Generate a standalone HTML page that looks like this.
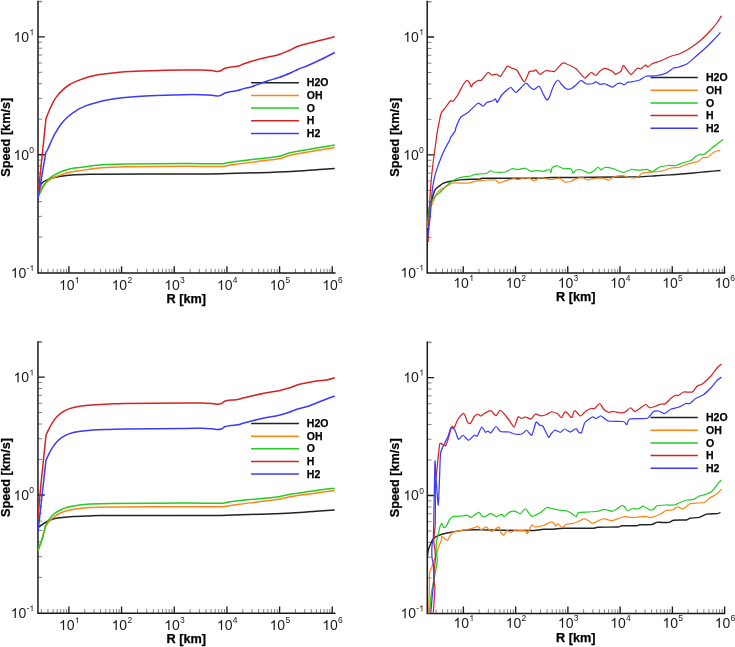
<!DOCTYPE html>
<html><head><meta charset="utf-8"><title>Speed vs R</title>
<style>html,body{margin:0;padding:0;background:#fff}body{width:735px;height:647px;overflow:hidden;font-family:"Liberation Sans",sans-serif}</style>
</head><body>
<svg width="735" height="647" viewBox="0 0 735 647" style="display:block;will-change:transform">
<rect width="735" height="647" fill="#ffffff"/>
<defs><path id="g1" d="M763 0L583 0L583 1147Q518 1085 412.5 1023Q307 961 223 930L223 1104Q374 1175 487 1276Q600 1377 647 1472L763 1472Z" fill="#1a1a1a"/></defs>
<clipPath id="c1"><rect x="37.6" y="-0.6000000000000001" width="299.15" height="273.95000000000005"/></clipPath>
<path d="M41.36,273.05 v-4.2 M47.94,273.05 v-4.2 M53.04,273.05 v-4.2 M57.22,273.05 v-4.2 M60.74,273.05 v-4.2 M63.80,273.05 v-4.2 M66.49,273.05 v-4.2 M84.76,273.05 v-4.2 M94.03,273.05 v-4.2 M100.61,273.05 v-4.2 M105.71,273.05 v-4.2 M109.89,273.05 v-4.2 M113.41,273.05 v-4.2 M116.47,273.05 v-4.2 M119.16,273.05 v-4.2 M137.43,273.05 v-4.2 M146.70,273.05 v-4.2 M153.28,273.05 v-4.2 M158.38,273.05 v-4.2 M162.56,273.05 v-4.2 M166.08,273.05 v-4.2 M169.14,273.05 v-4.2 M171.83,273.05 v-4.2 M190.10,273.05 v-4.2 M199.37,273.05 v-4.2 M205.95,273.05 v-4.2 M211.05,273.05 v-4.2 M215.23,273.05 v-4.2 M218.75,273.05 v-4.2 M221.81,273.05 v-4.2 M224.50,273.05 v-4.2 M242.77,273.05 v-4.2 M252.04,273.05 v-4.2 M258.62,273.05 v-4.2 M263.72,273.05 v-4.2 M267.90,273.05 v-4.2 M271.42,273.05 v-4.2 M274.48,273.05 v-4.2 M277.17,273.05 v-4.2 M295.44,273.05 v-4.2 M304.71,273.05 v-4.2 M311.29,273.05 v-4.2 M316.39,273.05 v-4.2 M320.57,273.05 v-4.2 M324.09,273.05 v-4.2 M327.15,273.05 v-4.2 M329.84,273.05 v-4.2 M38.0,237.11 h4.2 M38.0,216.35 h4.2 M38.0,201.62 h4.2 M38.0,190.19 h4.2 M38.0,180.86 h4.2 M38.0,172.96 h4.2 M38.0,166.13 h4.2 M38.0,160.09 h4.2 M38.0,119.21 h4.2 M38.0,98.45 h4.2 M38.0,83.72 h4.2 M38.0,72.29 h4.2 M38.0,62.96 h4.2 M38.0,55.06 h4.2 M38.0,48.23 h4.2 M38.0,42.19 h4.2 M38.0,1.31 h4.2 M38.0,1.80 h4.2" stroke="#858585" stroke-width="1" fill="none"/>
<path d="M68.90,273.05 v-6.8 M121.57,273.05 v-6.8 M174.24,273.05 v-6.8 M226.91,273.05 v-6.8 M279.58,273.05 v-6.8 M332.25,273.05 v-6.8 M38.0,154.70 h6.8 M38.0,36.80 h6.8" stroke="#1a1a1a" stroke-width="1.35" fill="none"/>
<path d="M38.0,1.4 V273.05 H334.75" stroke="#1a1a1a" stroke-width="1.5" fill="none" stroke-linejoin="miter" stroke-linecap="square"/>
<path d="M251.1,82.70 H298.9" stroke="#222222" stroke-width="1.5" fill="none"/>
<path d="M251.1,95.40 H298.9" stroke="#ff8418" stroke-width="1.5" fill="none"/>
<path d="M251.1,108.10 H298.9" stroke="#22cc22" stroke-width="1.5" fill="none"/>
<path d="M251.1,120.80 H298.9" stroke="#d62222" stroke-width="1.5" fill="none"/>
<path d="M251.1,133.50 H298.9" stroke="#3a3aff" stroke-width="1.5" fill="none"/>
<g clip-path="url(#c1)" fill="none" stroke-width="1.5" stroke-linejoin="round" stroke-linecap="butt">
<path d="M37.90,189.00 C38.13,188.68 38.60,188.12 39.30,187.10 C40.00,186.08 40.87,184.07 42.10,182.90 C43.33,181.73 44.85,180.95 46.70,180.10 C48.55,179.25 50.88,178.43 53.20,177.80 C55.52,177.17 57.52,176.77 60.60,176.30 C63.68,175.83 66.80,175.33 71.70,175.00 C76.60,174.67 85.28,174.43 90.00,174.30 C94.72,174.17 84.33,174.25 100.00,174.20 C115.67,174.15 163.75,174.07 184.00,174.00 C204.25,173.93 209.00,173.96 221.50,173.75 C234.00,173.54 247.33,173.12 259.00,172.75 C270.67,172.38 281.92,172.00 291.50,171.50 C301.08,171.00 309.29,170.25 316.50,169.75 C323.71,169.25 331.71,168.71 334.75,168.50" stroke="#222222"/>
<path d="M37.90,193.00 C38.28,192.33 39.20,190.37 40.20,189.00 C41.20,187.63 42.50,186.20 43.90,184.80 C45.30,183.40 47.05,181.77 48.60,180.60 C50.15,179.43 51.20,178.75 53.20,177.80 C55.20,176.85 57.97,175.78 60.60,174.90 C63.23,174.02 66.07,173.17 69.00,172.50 C71.93,171.83 74.70,171.43 78.20,170.90 C81.70,170.37 86.37,169.80 90.00,169.30 C93.63,168.80 94.17,168.33 100.00,167.90 C105.83,167.47 111.00,167.03 125.00,166.75 C139.00,166.47 169.50,166.30 184.00,166.25 C198.50,166.20 205.75,166.41 212.00,166.45 C218.25,166.49 219.17,166.60 221.50,166.50 C223.83,166.40 223.92,166.18 226.00,165.85 C228.08,165.52 228.50,165.27 234.00,164.50 C239.50,163.73 251.50,162.21 259.00,161.25 C266.50,160.29 274.00,159.71 279.00,158.75 C284.00,157.79 285.88,156.33 289.00,155.50 C292.12,154.67 293.17,154.58 297.75,153.75 C302.33,152.92 310.33,151.54 316.50,150.50 C322.67,149.46 331.71,148.00 334.75,147.50" stroke="#ff8418"/>
<path d="M37.90,196.40 C38.28,195.78 39.35,194.25 40.20,192.70 C41.05,191.15 41.92,189.03 43.00,187.10 C44.08,185.17 45.32,182.80 46.70,181.10 C48.08,179.40 49.45,178.22 51.30,176.90 C53.15,175.58 55.47,174.32 57.80,173.20 C60.13,172.08 62.52,171.05 65.30,170.20 C68.08,169.35 71.42,168.65 74.50,168.10 C77.58,167.55 81.22,167.22 83.80,166.90 C86.38,166.58 87.30,166.53 90.00,166.20 C92.70,165.87 94.17,165.27 100.00,164.90 C105.83,164.53 111.00,164.23 125.00,164.00 C139.00,163.77 169.50,163.55 184.00,163.50 C198.50,163.45 205.75,163.66 212.00,163.70 C218.25,163.74 219.17,163.85 221.50,163.75 C223.83,163.65 223.92,163.43 226.00,163.10 C228.08,162.77 228.50,162.47 234.00,161.75 C239.50,161.03 251.50,159.67 259.00,158.75 C266.50,157.83 274.00,157.21 279.00,156.25 C284.00,155.29 285.88,153.83 289.00,153.00 C292.12,152.17 293.17,152.08 297.75,151.25 C302.33,150.42 310.33,149.04 316.50,148.00 C322.67,146.96 331.71,145.50 334.75,145.00" stroke="#22cc22"/>
<path d="M38.00,195.40 L46.00,118.70 C46.47,117.50 47.75,113.98 48.80,111.50 C49.85,109.02 51.03,106.23 52.30,103.80 C53.57,101.37 54.78,99.10 56.40,96.90 C58.02,94.70 59.92,92.58 62.00,90.60 C64.08,88.62 66.35,86.62 68.90,85.00 C71.45,83.38 74.05,82.23 77.30,80.90 C80.55,79.57 84.70,78.05 88.40,77.00 C92.10,75.95 95.90,75.23 99.50,74.60 C103.10,73.97 105.75,73.67 110.00,73.20 C114.25,72.73 118.33,72.16 125.00,71.75 C131.67,71.34 140.17,71.04 150.00,70.75 C159.83,70.46 175.42,70.12 184.00,70.00 C192.58,69.88 196.83,69.90 201.50,70.00 C206.17,70.10 209.29,70.35 212.00,70.60 C214.71,70.85 216.25,71.50 217.75,71.50 C219.25,71.50 219.79,71.15 221.00,70.60 C222.21,70.05 223.33,68.80 225.00,68.20 C226.67,67.60 228.88,67.33 231.00,67.00 C233.12,66.67 235.58,66.78 237.75,66.25 C239.92,65.72 241.71,64.63 244.00,63.80 C246.29,62.97 248.00,62.25 251.50,61.25 C255.00,60.25 260.42,58.92 265.00,57.80 C269.58,56.67 275.00,55.72 279.00,54.50 C283.00,53.28 285.88,51.88 289.00,50.50 C292.12,49.12 294.75,47.37 297.75,46.25 C300.75,45.13 303.88,44.63 307.00,43.80 C310.12,42.97 313.33,42.05 316.50,41.25 C319.67,40.45 322.96,39.75 326.00,39.00 C329.04,38.25 333.29,37.12 334.75,36.75" stroke="#d62222"/>
<path d="M37.90,199.20 L45.90,152.10 C46.15,151.75 46.57,151.67 47.40,150.00 C48.23,148.33 49.63,144.82 50.90,142.10 C52.17,139.38 53.38,136.60 55.00,133.70 C56.62,130.80 58.50,127.48 60.60,124.70 C62.70,121.92 65.05,119.32 67.60,117.00 C70.15,114.68 72.90,112.65 75.90,110.80 C78.90,108.95 82.12,107.30 85.60,105.90 C89.08,104.50 92.73,103.45 96.80,102.40 C100.87,101.35 105.30,100.42 110.00,99.60 C114.70,98.78 118.33,98.14 125.00,97.50 C131.67,96.86 140.17,96.22 150.00,95.75 C159.83,95.28 175.42,94.88 184.00,94.70 C192.58,94.53 196.83,94.62 201.50,94.70 C206.17,94.78 209.29,94.98 212.00,95.20 C214.71,95.42 216.25,96.00 217.75,96.00 C219.25,96.00 219.79,95.70 221.00,95.20 C222.21,94.70 223.33,93.60 225.00,93.00 C226.67,92.40 228.88,92.02 231.00,91.60 C233.12,91.18 235.58,91.00 237.75,90.50 C239.92,90.00 241.71,89.22 244.00,88.60 C246.29,87.97 247.75,87.97 251.50,86.75 C255.25,85.53 261.92,82.79 266.50,81.25 C271.08,79.71 274.83,78.96 279.00,77.50 C283.17,76.04 288.38,73.83 291.50,72.50 C294.62,71.17 294.83,70.75 297.75,69.50 C300.67,68.25 305.04,66.71 309.00,65.00 C312.96,63.29 317.21,61.33 321.50,59.25 C325.79,57.17 332.54,53.62 334.75,52.50" stroke="#3a3aff"/>
</g>
<use href="#g1" transform="translate(58.90,289.95) scale(0.00684,-0.00684)"/><text x="66.68" y="289.95" font-family="Liberation Sans, sans-serif" font-size="14" fill="#1a1a1a">0</text><use href="#g1" transform="translate(74.77,283.15) scale(0.00415,-0.00415)"/>
<use href="#g1" transform="translate(111.57,289.95) scale(0.00684,-0.00684)"/><text x="119.35" y="289.95" font-family="Liberation Sans, sans-serif" font-size="14" fill="#1a1a1a">0</text><text x="127.44" y="283.15" font-family="Liberation Sans, sans-serif" font-size="8.5" fill="#1a1a1a">2</text>
<use href="#g1" transform="translate(164.24,289.95) scale(0.00684,-0.00684)"/><text x="172.02" y="289.95" font-family="Liberation Sans, sans-serif" font-size="14" fill="#1a1a1a">0</text><text x="180.11" y="283.15" font-family="Liberation Sans, sans-serif" font-size="8.5" fill="#1a1a1a">3</text>
<use href="#g1" transform="translate(216.91,289.95) scale(0.00684,-0.00684)"/><text x="224.69" y="289.95" font-family="Liberation Sans, sans-serif" font-size="14" fill="#1a1a1a">0</text><text x="232.78" y="283.15" font-family="Liberation Sans, sans-serif" font-size="8.5" fill="#1a1a1a">4</text>
<use href="#g1" transform="translate(269.58,289.95) scale(0.00684,-0.00684)"/><text x="277.36" y="289.95" font-family="Liberation Sans, sans-serif" font-size="14" fill="#1a1a1a">0</text><text x="285.45" y="283.15" font-family="Liberation Sans, sans-serif" font-size="8.5" fill="#1a1a1a">5</text>
<use href="#g1" transform="translate(322.25,289.95) scale(0.00684,-0.00684)"/><text x="330.03" y="289.95" font-family="Liberation Sans, sans-serif" font-size="14" fill="#1a1a1a">0</text><text x="338.12" y="283.15" font-family="Liberation Sans, sans-serif" font-size="8.5" fill="#1a1a1a">6</text>
<use href="#g1" transform="translate(13.51,42.00) scale(0.00684,-0.00684)"/><text x="21.29" y="42.00" font-family="Liberation Sans, sans-serif" font-size="14" fill="#1a1a1a">0</text><use href="#g1" transform="translate(29.37,35.20) scale(0.00415,-0.00415)"/>
<use href="#g1" transform="translate(13.51,159.90) scale(0.00684,-0.00684)"/><text x="21.29" y="159.90" font-family="Liberation Sans, sans-serif" font-size="14" fill="#1a1a1a">0</text><text x="29.37" y="153.10" font-family="Liberation Sans, sans-serif" font-size="8.5" fill="#1a1a1a">0</text>
<use href="#g1" transform="translate(10.68,277.80) scale(0.00684,-0.00684)"/><text x="18.46" y="277.80" font-family="Liberation Sans, sans-serif" font-size="14" fill="#1a1a1a">0</text><text x="26.54" y="271.00" font-family="Liberation Sans, sans-serif" font-size="8.5" fill="#1a1a1a">-</text><use href="#g1" transform="translate(29.37,271.00) scale(0.00415,-0.00415)"/>
<text x="186.28" y="303.25" font-family="Liberation Sans, sans-serif" font-size="12.7" font-weight="bold" fill="#000" stroke="#000" stroke-width="0.25" text-anchor="middle">R [km]</text>
<text transform="translate(9.90,137.22) rotate(-90)" font-family="Liberation Sans, sans-serif" font-size="12.7" font-weight="bold" fill="#000" stroke="#000" stroke-width="0.25" text-anchor="middle">Speed [km/s]</text>
<text x="306.8" y="86.30" font-family="Liberation Sans, sans-serif" font-size="10.5" font-weight="bold" fill="#000" stroke="#000" stroke-width="0.25">H2O</text>
<text x="306.8" y="99.00" font-family="Liberation Sans, sans-serif" font-size="10.5" font-weight="bold" fill="#000" stroke="#000" stroke-width="0.25">OH</text>
<text x="306.8" y="111.70" font-family="Liberation Sans, sans-serif" font-size="10.5" font-weight="bold" fill="#000" stroke="#000" stroke-width="0.25">O</text>
<text x="306.8" y="124.40" font-family="Liberation Sans, sans-serif" font-size="10.5" font-weight="bold" fill="#000" stroke="#000" stroke-width="0.25">H</text>
<text x="306.8" y="137.10" font-family="Liberation Sans, sans-serif" font-size="10.5" font-weight="bold" fill="#000" stroke="#000" stroke-width="0.25">H2</text>
<clipPath id="c2"><rect x="426.8" y="-0.5" width="299.7" height="273.75"/></clipPath>
<path d="M435.93,272.95 v-4.2 M442.46,272.95 v-4.2 M447.52,272.95 v-4.2 M451.66,272.95 v-4.2 M455.16,272.95 v-4.2 M458.19,272.95 v-4.2 M460.86,272.95 v-4.2 M478.98,272.95 v-4.2 M488.18,272.95 v-4.2 M494.71,272.95 v-4.2 M499.77,272.95 v-4.2 M503.91,272.95 v-4.2 M507.41,272.95 v-4.2 M510.44,272.95 v-4.2 M513.11,272.95 v-4.2 M531.23,272.95 v-4.2 M540.43,272.95 v-4.2 M546.96,272.95 v-4.2 M552.02,272.95 v-4.2 M556.16,272.95 v-4.2 M559.66,272.95 v-4.2 M562.69,272.95 v-4.2 M565.36,272.95 v-4.2 M583.48,272.95 v-4.2 M592.68,272.95 v-4.2 M599.21,272.95 v-4.2 M604.27,272.95 v-4.2 M608.41,272.95 v-4.2 M611.91,272.95 v-4.2 M614.94,272.95 v-4.2 M617.61,272.95 v-4.2 M635.73,272.95 v-4.2 M644.93,272.95 v-4.2 M651.46,272.95 v-4.2 M656.52,272.95 v-4.2 M660.66,272.95 v-4.2 M664.16,272.95 v-4.2 M667.19,272.95 v-4.2 M669.86,272.95 v-4.2 M687.98,272.95 v-4.2 M697.18,272.95 v-4.2 M703.71,272.95 v-4.2 M708.77,272.95 v-4.2 M712.91,272.95 v-4.2 M716.41,272.95 v-4.2 M719.44,272.95 v-4.2 M722.11,272.95 v-4.2 M427.2,237.31 h4.2 M427.2,216.55 h4.2 M427.2,201.82 h4.2 M427.2,190.39 h4.2 M427.2,181.06 h4.2 M427.2,173.16 h4.2 M427.2,166.33 h4.2 M427.2,160.29 h4.2 M427.2,119.41 h4.2 M427.2,98.65 h4.2 M427.2,83.92 h4.2 M427.2,72.49 h4.2 M427.2,63.16 h4.2 M427.2,55.26 h4.2 M427.2,48.43 h4.2 M427.2,42.39 h4.2 M427.2,1.51 h4.2 M427.2,1.90 h4.2" stroke="#858585" stroke-width="1" fill="none"/>
<path d="M463.25,272.95 v-6.8 M515.50,272.95 v-6.8 M567.75,272.95 v-6.8 M620.00,272.95 v-6.8 M672.25,272.95 v-6.8 M724.50,272.95 v-6.8 M427.2,154.90 h6.8 M427.2,37.00 h6.8" stroke="#1a1a1a" stroke-width="1.35" fill="none"/>
<path d="M427.2,1.5 V272.95 H724.5" stroke="#1a1a1a" stroke-width="1.5" fill="none" stroke-linejoin="miter" stroke-linecap="square"/>
<path d="M650.5,77.50 H697.8" stroke="#222222" stroke-width="1.5" fill="none"/>
<path d="M650.5,90.20 H697.8" stroke="#ff8418" stroke-width="1.5" fill="none"/>
<path d="M650.5,102.90 H697.8" stroke="#22cc22" stroke-width="1.5" fill="none"/>
<path d="M650.5,115.60 H697.8" stroke="#d62222" stroke-width="1.5" fill="none"/>
<path d="M650.5,128.30 H697.8" stroke="#3a3aff" stroke-width="1.5" fill="none"/>
<g clip-path="url(#c2)" fill="none" stroke-width="1.25" stroke-linejoin="round" stroke-linecap="butt">
<path d="M427.70,228.40 C427.87,226.36 428.98,210.89 429.40,208.00 C429.82,205.11 431.39,201.20 431.90,199.50 C432.41,197.80 434.07,192.10 434.50,191.00 C434.93,189.90 435.69,189.01 436.20,188.50 C436.71,187.99 438.92,186.41 439.60,185.90 C440.28,185.39 442.32,183.77 443.00,183.40 C443.68,183.03 445.30,182.46 446.40,182.20 C447.50,181.94 452.39,181.06 454.00,180.80 C455.61,180.54 459.90,179.77 462.50,179.60 C465.10,179.43 477.95,179.23 480.00,179.10 C482.05,178.97 479.20,178.34 483.00,178.25 C486.80,178.16 512.00,178.28 518.00,178.25 C524.00,178.22 539.62,178.07 543.00,178.00 C546.38,177.93 548.45,177.55 551.75,177.50 C555.05,177.45 569.83,177.55 576.00,177.50 C582.17,177.45 607.25,177.05 613.50,177.00 C619.75,176.95 634.25,177.12 638.50,177.00 C642.75,176.88 652.25,176.00 656.00,175.75 C659.75,175.50 672.25,174.78 676.00,174.50 C679.75,174.22 690.50,173.28 693.50,173.00 C696.50,172.72 703.30,172.00 706.00,171.75 C708.70,171.50 719.05,170.62 720.50,170.50" stroke="#222222" stroke-width="1.45"/>
<path d="M427.50,228.00 C427.77,226.00 429.67,210.51 430.20,208.00 C430.73,205.49 432.29,204.09 432.80,202.90 C433.31,201.71 434.79,197.20 435.30,196.10 C435.81,195.00 437.30,192.58 437.90,191.90 C438.50,191.22 440.54,189.81 441.30,189.30 C442.06,188.79 444.57,187.34 445.50,186.80 C446.43,186.26 449.75,184.28 450.60,183.90 C451.45,183.52 452.13,183.09 454.00,183.00 C455.87,182.91 467.26,183.17 469.30,183.00 C471.34,182.83 473.33,181.52 474.40,181.30 C475.47,181.08 478.76,180.93 480.00,180.80 C481.24,180.67 485.20,180.08 486.75,180.00 C488.30,179.92 494.25,179.70 495.50,180.00 C496.75,180.30 498.38,182.88 499.25,183.00 C500.12,183.12 502.88,181.68 504.25,181.25 C505.62,180.82 511.62,178.93 513.00,178.75 C514.38,178.57 516.88,179.57 518.00,179.50 C519.12,179.43 523.00,178.07 524.25,178.00 C525.50,177.93 529.50,178.47 530.50,178.75 C531.50,179.03 533.25,180.88 534.25,180.75 C535.25,180.62 539.38,177.70 540.50,177.50 C541.62,177.30 544.38,178.55 545.50,178.75 C546.62,178.95 550.33,179.55 551.75,179.50 C553.17,179.45 558.45,178.00 559.75,178.25 C561.05,178.50 563.62,181.70 564.75,182.00 C565.88,182.30 569.38,181.75 571.00,181.25 C572.62,180.75 579.38,177.12 581.00,177.00 C582.62,176.88 585.75,179.88 587.25,180.00 C588.75,180.12 594.38,178.43 596.00,178.25 C597.62,178.07 602.25,178.07 603.50,178.25 C604.75,178.43 607.50,180.12 608.50,180.00 C609.50,179.88 612.00,177.43 613.50,177.00 C615.00,176.57 622.00,175.70 623.50,175.75 C625.00,175.80 627.12,177.32 628.50,177.50 C629.88,177.68 635.88,177.93 637.25,177.50 C638.62,177.07 640.88,173.80 642.25,173.25 C643.62,172.70 649.12,172.20 651.00,172.00 C652.88,171.80 659.00,171.65 661.00,171.25 C663.00,170.85 669.25,168.38 671.00,168.00 C672.75,167.62 677.00,167.85 678.50,167.50 C680.00,167.15 684.50,165.00 686.00,164.50 C687.50,164.00 692.25,162.82 693.50,162.50 C694.75,162.18 697.55,161.75 698.50,161.25 C699.45,160.75 702.12,157.88 703.00,157.50 C703.88,157.12 706.20,158.00 707.25,157.50 C708.30,157.00 712.50,153.18 713.50,152.50 C714.50,151.82 716.58,150.93 717.25,150.75 C717.92,150.57 719.95,150.75 720.25,150.75" stroke="#ff8418"/>
<path d="M427.50,224.00 C427.69,222.23 428.96,208.58 429.40,206.30 C429.84,204.02 431.31,202.22 431.90,201.20 C432.49,200.18 434.62,196.86 435.30,196.10 C435.98,195.34 438.02,194.19 438.70,193.60 C439.38,193.01 441.25,191.05 442.10,190.20 C442.95,189.35 446.18,185.99 447.20,185.10 C448.22,184.21 451.36,181.93 452.30,181.30 C453.24,180.67 455.75,179.19 456.60,178.80 C457.45,178.41 459.87,177.62 460.80,177.40 C461.73,177.18 464.88,176.74 465.90,176.60 C466.92,176.46 470.15,176.21 471.00,176.00 C471.85,175.79 473.50,174.70 474.40,174.50 C475.30,174.30 478.76,174.12 480.00,174.00 C481.24,173.88 485.70,173.57 486.75,173.25 C487.80,172.93 489.88,170.88 490.50,170.75 C491.12,170.62 491.50,171.88 493.00,172.00 C494.50,172.12 503.62,172.32 505.50,172.00 C507.38,171.68 510.50,169.00 511.75,168.75 C513.00,168.50 516.62,169.55 518.00,169.50 C519.38,169.45 524.25,168.07 525.50,168.25 C526.75,168.43 529.38,171.03 530.50,171.25 C531.62,171.47 535.50,170.50 536.75,170.50 C538.00,170.50 541.75,171.35 543.00,171.25 C544.25,171.15 548.45,169.38 549.25,169.50 C550.05,169.62 550.70,172.70 551.00,172.50 C551.30,172.30 551.62,168.18 552.25,167.50 C552.88,166.82 556.12,165.62 557.25,165.75 C558.38,165.88 562.12,168.45 563.50,168.75 C564.88,169.05 570.05,168.30 571.00,168.75 C571.95,169.20 572.50,173.12 573.00,173.25 C573.50,173.38 575.08,170.32 576.00,170.00 C576.92,169.68 581.00,169.70 582.25,170.00 C583.50,170.30 587.38,172.88 588.50,173.00 C589.62,173.12 592.55,171.85 593.50,171.25 C594.45,170.65 597.25,167.12 598.00,167.00 C598.75,166.88 600.33,169.95 601.00,170.00 C601.67,170.05 603.50,167.62 604.75,167.50 C606.00,167.38 611.62,168.25 613.50,168.75 C615.38,169.25 621.75,172.43 623.50,172.50 C625.25,172.57 629.50,169.75 631.00,169.50 C632.50,169.25 636.88,170.00 638.50,170.00 C640.12,170.00 645.88,169.32 647.25,169.50 C648.62,169.68 651.00,172.00 652.25,171.75 C653.50,171.50 658.12,167.62 659.75,167.00 C661.38,166.38 666.88,165.65 668.50,165.50 C670.12,165.35 674.50,165.80 676.00,165.50 C677.50,165.20 682.00,163.00 683.50,162.50 C685.00,162.00 689.75,161.12 691.00,160.50 C692.25,159.88 695.00,156.88 696.00,156.25 C697.00,155.62 700.20,154.43 701.00,154.25 C701.80,154.07 703.00,155.05 704.00,154.50 C705.00,153.95 709.10,150.25 711.00,148.75 C712.90,147.25 721.80,140.43 723.00,139.50" stroke="#22cc22"/>
<path d="M428.20,242.00 C428.32,238.60 429.12,213.95 429.40,208.00 C429.68,202.05 430.66,186.75 431.00,182.50 C431.34,178.25 432.40,168.90 432.80,165.50 C433.20,162.10 434.66,151.05 435.00,148.50 C435.34,145.95 436.02,141.35 436.20,140.00 C436.38,138.65 436.27,137.62 436.75,135.00 C437.23,132.38 440.12,116.50 441.00,113.75 C441.88,111.00 444.55,108.80 445.50,107.50 C446.45,106.20 449.75,101.38 450.50,100.75 C451.25,100.12 452.25,101.88 453.00,101.25 C453.75,100.62 457.00,96.12 458.00,94.50 C459.00,92.88 462.12,86.40 463.00,85.00 C463.88,83.60 466.12,80.75 466.75,80.50 C467.38,80.25 468.80,81.85 469.25,82.50 C469.70,83.15 470.88,86.88 471.25,87.00 C471.62,87.12 472.32,84.40 473.00,83.75 C473.68,83.10 477.12,80.88 478.00,80.50 C478.88,80.12 480.75,80.80 481.75,80.00 C482.75,79.20 487.00,73.00 488.00,72.50 C489.00,72.00 490.88,74.83 491.75,75.00 C492.62,75.17 495.88,74.12 496.75,74.25 C497.62,74.38 499.45,77.05 500.50,76.25 C501.55,75.45 506.12,67.05 507.25,66.25 C508.38,65.45 510.80,67.88 511.75,68.25 C512.70,68.62 515.50,68.65 516.75,70.00 C518.00,71.35 523.00,81.58 524.25,81.75 C525.50,81.92 528.38,72.80 529.25,71.75 C530.12,70.70 532.33,71.42 533.00,71.25 C533.67,71.08 535.30,69.67 536.00,70.00 C536.70,70.33 539.05,74.42 540.00,74.50 C540.95,74.58 544.33,71.08 545.50,70.75 C546.67,70.42 550.83,71.20 551.75,71.25 C552.67,71.30 553.70,72.05 554.75,71.25 C555.80,70.45 561.12,64.00 562.25,63.25 C563.38,62.50 564.62,63.20 566.00,63.75 C567.38,64.30 574.12,67.33 576.00,68.75 C577.88,70.17 583.25,77.62 584.75,78.00 C586.25,78.38 589.88,72.75 591.00,72.50 C592.12,72.25 595.12,75.62 596.00,75.50 C596.88,75.38 598.88,71.97 599.75,71.25 C600.62,70.53 603.50,68.25 604.75,68.25 C606.00,68.25 611.17,70.65 612.25,71.25 C613.33,71.85 614.62,74.25 615.50,74.25 C616.38,74.25 620.20,72.12 621.00,71.25 C621.80,70.38 622.50,65.17 623.50,65.50 C624.50,65.83 629.62,74.22 631.00,74.50 C632.38,74.78 636.25,68.83 637.25,68.25 C638.25,67.67 640.17,69.08 641.00,68.75 C641.83,68.42 644.80,65.17 645.50,65.00 C646.20,64.83 647.33,67.12 648.00,67.00 C648.67,66.88 650.95,64.38 652.25,63.75 C653.55,63.12 659.12,61.50 661.00,60.75 C662.88,60.00 669.00,57.00 671.00,56.25 C673.00,55.50 679.00,54.12 681.00,53.25 C683.00,52.38 689.00,48.83 691.00,47.50 C693.00,46.17 699.00,41.75 701.00,40.00 C703.00,38.25 709.38,31.75 711.00,30.00 C712.62,28.25 716.20,23.93 717.25,22.50 C718.30,21.07 721.08,16.43 721.50,15.75" stroke="#d62222"/>
<path d="M427.70,237.00 C427.95,234.95 429.75,221.10 430.20,216.50 C430.65,211.90 431.77,194.91 432.20,191.00 C432.63,187.09 434.02,179.61 434.50,177.40 C434.98,175.19 436.32,170.94 437.00,168.90 C437.68,166.86 440.45,159.12 441.30,157.00 C442.15,154.88 444.65,149.40 445.50,147.70 C446.35,146.00 449.30,141.02 449.80,140.00 C450.30,138.98 449.98,138.38 450.50,137.50 C451.02,136.62 454.45,132.25 455.00,131.25 C455.55,130.25 455.45,128.88 456.00,127.50 C456.55,126.12 459.30,119.00 460.50,117.50 C461.70,116.00 466.25,113.92 468.00,112.50 C469.75,111.08 476.50,103.88 478.00,103.25 C479.50,102.62 482.12,106.33 483.00,106.25 C483.88,106.17 485.75,103.05 486.75,102.50 C487.75,101.95 492.12,101.12 493.00,100.75 C493.88,100.38 495.07,98.58 495.50,98.75 C495.93,98.92 496.62,102.88 497.25,102.50 C497.88,102.12 500.43,96.50 501.75,95.00 C503.07,93.50 509.07,87.75 510.50,87.50 C511.93,87.25 514.50,92.92 516.00,92.50 C517.50,92.08 524.05,83.75 525.50,83.25 C526.95,82.75 529.62,86.88 530.50,87.50 C531.38,88.12 533.38,89.62 534.25,89.50 C535.12,89.38 538.38,85.83 539.25,86.25 C540.12,86.67 542.25,92.38 543.00,93.75 C543.75,95.12 546.12,99.62 546.75,100.00 C547.38,100.38 548.75,98.45 549.25,97.50 C549.75,96.55 551.27,91.75 551.75,90.50 C552.23,89.25 553.38,86.05 554.00,85.00 C554.62,83.95 557.30,80.12 558.00,80.00 C558.70,79.88 560.20,82.88 561.00,83.75 C561.80,84.62 565.00,88.25 566.00,88.75 C567.00,89.25 570.00,89.12 571.00,88.75 C572.00,88.38 575.00,85.83 576.00,85.00 C577.00,84.17 580.00,80.62 581.00,80.50 C582.00,80.38 584.88,83.42 586.00,83.75 C587.12,84.08 591.25,83.95 592.25,83.75 C593.25,83.55 595.25,81.70 596.00,81.75 C596.75,81.80 598.88,84.05 599.75,84.25 C600.62,84.45 603.50,83.47 604.75,83.75 C606.00,84.03 611.00,87.00 612.25,87.00 C613.50,87.00 616.38,84.12 617.25,83.75 C618.12,83.38 620.30,83.12 621.00,83.25 C621.70,83.38 623.62,85.08 624.25,85.00 C624.88,84.92 626.58,82.80 627.25,82.50 C627.92,82.20 629.75,82.25 631.00,82.00 C632.25,81.75 638.25,80.58 639.75,80.00 C641.25,79.42 644.38,76.67 646.00,76.25 C647.62,75.83 654.00,76.05 656.00,75.75 C658.00,75.45 664.25,74.03 666.00,73.25 C667.75,72.47 672.38,68.58 673.50,68.00 C674.62,67.42 675.88,67.92 677.25,67.50 C678.62,67.08 685.38,64.88 687.25,63.75 C689.12,62.62 694.12,57.88 696.00,56.25 C697.88,54.62 704.25,49.12 706.00,47.50 C707.75,45.88 712.05,41.50 713.50,40.00 C714.95,38.50 719.80,33.25 720.50,32.50" stroke="#3a3aff"/>
</g>
<use href="#g1" transform="translate(453.25,287.70) scale(0.00684,-0.00684)"/><text x="461.03" y="287.70" font-family="Liberation Sans, sans-serif" font-size="14" fill="#1a1a1a">0</text><use href="#g1" transform="translate(469.12,280.90) scale(0.00415,-0.00415)"/>
<use href="#g1" transform="translate(505.50,287.70) scale(0.00684,-0.00684)"/><text x="513.28" y="287.70" font-family="Liberation Sans, sans-serif" font-size="14" fill="#1a1a1a">0</text><text x="521.37" y="280.90" font-family="Liberation Sans, sans-serif" font-size="8.5" fill="#1a1a1a">2</text>
<use href="#g1" transform="translate(557.75,287.70) scale(0.00684,-0.00684)"/><text x="565.53" y="287.70" font-family="Liberation Sans, sans-serif" font-size="14" fill="#1a1a1a">0</text><text x="573.62" y="280.90" font-family="Liberation Sans, sans-serif" font-size="8.5" fill="#1a1a1a">3</text>
<use href="#g1" transform="translate(610.00,287.70) scale(0.00684,-0.00684)"/><text x="617.78" y="287.70" font-family="Liberation Sans, sans-serif" font-size="14" fill="#1a1a1a">0</text><text x="625.87" y="280.90" font-family="Liberation Sans, sans-serif" font-size="8.5" fill="#1a1a1a">4</text>
<use href="#g1" transform="translate(662.25,287.70) scale(0.00684,-0.00684)"/><text x="670.03" y="287.70" font-family="Liberation Sans, sans-serif" font-size="14" fill="#1a1a1a">0</text><text x="678.12" y="280.90" font-family="Liberation Sans, sans-serif" font-size="8.5" fill="#1a1a1a">5</text>
<use href="#g1" transform="translate(714.50,287.70) scale(0.00684,-0.00684)"/><text x="722.28" y="287.70" font-family="Liberation Sans, sans-serif" font-size="14" fill="#1a1a1a">0</text><text x="730.37" y="280.90" font-family="Liberation Sans, sans-serif" font-size="8.5" fill="#1a1a1a">6</text>
<use href="#g1" transform="translate(403.21,41.80) scale(0.00684,-0.00684)"/><text x="410.99" y="41.80" font-family="Liberation Sans, sans-serif" font-size="14" fill="#1a1a1a">0</text><use href="#g1" transform="translate(419.07,35.00) scale(0.00415,-0.00415)"/>
<use href="#g1" transform="translate(403.21,159.70) scale(0.00684,-0.00684)"/><text x="410.99" y="159.70" font-family="Liberation Sans, sans-serif" font-size="14" fill="#1a1a1a">0</text><text x="419.07" y="152.90" font-family="Liberation Sans, sans-serif" font-size="8.5" fill="#1a1a1a">0</text>
<use href="#g1" transform="translate(400.38,277.60) scale(0.00684,-0.00684)"/><text x="408.16" y="277.60" font-family="Liberation Sans, sans-serif" font-size="14" fill="#1a1a1a">0</text><text x="416.24" y="270.80" font-family="Liberation Sans, sans-serif" font-size="8.5" fill="#1a1a1a">-</text><use href="#g1" transform="translate(419.07,270.80) scale(0.00415,-0.00415)"/>
<text x="575.75" y="301.25" font-family="Liberation Sans, sans-serif" font-size="12.7" font-weight="bold" fill="#000" stroke="#000" stroke-width="0.25" text-anchor="middle">R [km]</text>
<text transform="translate(398.70,137.22) rotate(-90)" font-family="Liberation Sans, sans-serif" font-size="12.7" font-weight="bold" fill="#000" stroke="#000" stroke-width="0.25" text-anchor="middle">Speed [km/s]</text>
<text x="706.0" y="81.10" font-family="Liberation Sans, sans-serif" font-size="10.5" font-weight="bold" fill="#000" stroke="#000" stroke-width="0.25">H2O</text>
<text x="706.0" y="93.80" font-family="Liberation Sans, sans-serif" font-size="10.5" font-weight="bold" fill="#000" stroke="#000" stroke-width="0.25">OH</text>
<text x="706.0" y="106.50" font-family="Liberation Sans, sans-serif" font-size="10.5" font-weight="bold" fill="#000" stroke="#000" stroke-width="0.25">O</text>
<text x="706.0" y="119.20" font-family="Liberation Sans, sans-serif" font-size="10.5" font-weight="bold" fill="#000" stroke="#000" stroke-width="0.25">H</text>
<text x="706.0" y="131.90" font-family="Liberation Sans, sans-serif" font-size="10.5" font-weight="bold" fill="#000" stroke="#000" stroke-width="0.25">H2</text>
<clipPath id="c3"><rect x="37.550000000000004" y="339.9" width="299.2" height="273.6000000000001"/></clipPath>
<path d="M41.36,613.2 v-4.2 M47.94,613.2 v-4.2 M53.04,613.2 v-4.2 M57.22,613.2 v-4.2 M60.74,613.2 v-4.2 M63.80,613.2 v-4.2 M66.49,613.2 v-4.2 M84.76,613.2 v-4.2 M94.03,613.2 v-4.2 M100.61,613.2 v-4.2 M105.71,613.2 v-4.2 M109.89,613.2 v-4.2 M113.41,613.2 v-4.2 M116.47,613.2 v-4.2 M119.16,613.2 v-4.2 M137.43,613.2 v-4.2 M146.70,613.2 v-4.2 M153.28,613.2 v-4.2 M158.38,613.2 v-4.2 M162.56,613.2 v-4.2 M166.08,613.2 v-4.2 M169.14,613.2 v-4.2 M171.83,613.2 v-4.2 M190.10,613.2 v-4.2 M199.37,613.2 v-4.2 M205.95,613.2 v-4.2 M211.05,613.2 v-4.2 M215.23,613.2 v-4.2 M218.75,613.2 v-4.2 M221.81,613.2 v-4.2 M224.50,613.2 v-4.2 M242.77,613.2 v-4.2 M252.04,613.2 v-4.2 M258.62,613.2 v-4.2 M263.72,613.2 v-4.2 M267.90,613.2 v-4.2 M271.42,613.2 v-4.2 M274.48,613.2 v-4.2 M277.17,613.2 v-4.2 M295.44,613.2 v-4.2 M304.71,613.2 v-4.2 M311.29,613.2 v-4.2 M316.39,613.2 v-4.2 M320.57,613.2 v-4.2 M324.09,613.2 v-4.2 M327.15,613.2 v-4.2 M329.84,613.2 v-4.2 M37.95,577.41 h4.2 M37.95,556.65 h4.2 M37.95,541.92 h4.2 M37.95,530.49 h4.2 M37.95,521.16 h4.2 M37.95,513.26 h4.2 M37.95,506.43 h4.2 M37.95,500.39 h4.2 M37.95,459.51 h4.2 M37.95,438.75 h4.2 M37.95,424.02 h4.2 M37.95,412.59 h4.2 M37.95,403.26 h4.2 M37.95,395.36 h4.2 M37.95,388.53 h4.2 M37.95,382.49 h4.2 M37.95,341.61 h4.2 M37.95,342.30 h4.2" stroke="#858585" stroke-width="1" fill="none"/>
<path d="M68.90,613.2 v-6.8 M121.57,613.2 v-6.8 M174.24,613.2 v-6.8 M226.91,613.2 v-6.8 M279.58,613.2 v-6.8 M332.25,613.2 v-6.8 M37.95,495.00 h6.8 M37.95,377.10 h6.8" stroke="#1a1a1a" stroke-width="1.35" fill="none"/>
<path d="M37.95,341.9 V613.2 H334.75" stroke="#1a1a1a" stroke-width="1.5" fill="none" stroke-linejoin="miter" stroke-linecap="square"/>
<path d="M251.1,423.50 H298.9" stroke="#222222" stroke-width="1.5" fill="none"/>
<path d="M251.1,436.15 H298.9" stroke="#ff8418" stroke-width="1.5" fill="none"/>
<path d="M251.1,448.80 H298.9" stroke="#22cc22" stroke-width="1.5" fill="none"/>
<path d="M251.1,461.45 H298.9" stroke="#d62222" stroke-width="1.5" fill="none"/>
<path d="M251.1,474.10 H298.9" stroke="#3a3aff" stroke-width="1.5" fill="none"/>
<g clip-path="url(#c3)" fill="none" stroke-width="1.5" stroke-linejoin="round" stroke-linecap="butt">
<path d="M38.00,527.60 C38.73,527.08 40.63,525.63 42.40,524.50 C44.17,523.37 46.55,521.78 48.60,520.80 C50.65,519.82 52.43,519.17 54.70,518.60 C56.97,518.03 59.10,517.75 62.20,517.40 C65.30,517.05 68.67,516.75 73.30,516.50 C77.93,516.25 85.55,516.05 90.00,515.90 C94.45,515.75 84.33,515.67 100.00,515.60 C115.67,515.53 163.75,515.52 184.00,515.50 C204.25,515.48 209.00,515.71 221.50,515.50 C234.00,515.29 247.33,514.67 259.00,514.25 C270.67,513.83 281.92,513.50 291.50,513.00 C301.08,512.50 309.29,511.75 316.50,511.25 C323.71,510.75 331.71,510.21 334.75,510.00" stroke="#222222"/>
<path d="M38.00,551.00 L42.40,538.60 L45.50,526.40 C46.22,525.47 48.27,522.45 49.80,520.80 C51.33,519.15 52.85,517.83 54.70,516.50 C56.55,515.17 58.62,513.83 60.90,512.80 C63.18,511.77 65.72,510.98 68.40,510.30 C71.08,509.62 73.40,509.17 77.00,508.70 C80.60,508.23 84.08,507.78 90.00,507.50 C95.92,507.22 96.83,507.12 112.50,507.00 C128.17,506.88 167.42,506.79 184.00,506.75 C200.58,506.71 205.75,506.75 212.00,506.75 C218.25,506.75 219.17,506.84 221.50,506.75 C223.83,506.66 223.92,506.49 226.00,506.20 C228.08,505.91 228.50,505.74 234.00,505.00 C239.50,504.26 251.50,502.71 259.00,501.75 C266.50,500.79 274.00,500.04 279.00,499.25 C284.00,498.46 285.88,497.62 289.00,497.00 C292.12,496.38 293.17,496.17 297.75,495.50 C302.33,494.83 310.33,493.83 316.50,493.00 C322.67,492.17 331.71,490.92 334.75,490.50" stroke="#ff8418"/>
<path d="M38.00,550.50 L42.40,538.10 L45.50,525.80 C46.22,524.57 48.27,520.47 49.80,518.40 C51.33,516.33 52.85,514.85 54.70,513.40 C56.55,511.95 58.62,510.77 60.90,509.70 C63.18,508.63 65.72,507.72 68.40,507.00 C71.08,506.28 73.40,505.88 77.00,505.40 C80.60,504.92 84.08,504.42 90.00,504.10 C95.92,503.78 96.83,503.68 112.50,503.50 C128.17,503.32 167.42,503.05 184.00,503.00 C200.58,502.95 205.75,503.16 212.00,503.20 C218.25,503.24 219.17,503.35 221.50,503.25 C223.83,503.15 223.92,502.93 226.00,502.60 C228.08,502.27 228.50,501.89 234.00,501.25 C239.50,500.61 251.50,499.50 259.00,498.75 C266.50,498.00 274.00,497.46 279.00,496.75 C284.00,496.04 285.88,495.08 289.00,494.50 C292.12,493.92 293.17,493.92 297.75,493.25 C302.33,492.58 310.33,491.33 316.50,490.50 C322.67,489.67 331.71,488.62 334.75,488.25" stroke="#22cc22"/>
<path d="M38.00,517.00 L40.85,485.00 L46.00,435.30 C46.47,434.27 47.75,431.18 48.80,429.10 C49.85,427.02 51.03,424.77 52.30,422.80 C53.57,420.83 54.78,419.03 56.40,417.30 C58.02,415.57 59.92,413.80 62.00,412.40 C64.08,411.00 66.12,409.90 68.90,408.90 C71.68,407.90 74.75,407.05 78.70,406.40 C82.65,405.75 87.38,405.40 92.60,405.00 C97.82,404.60 104.60,404.25 110.00,404.00 C115.40,403.75 112.67,403.67 125.00,403.50 C137.33,403.33 171.25,403.08 184.00,403.00 C196.75,402.92 196.83,402.90 201.50,403.00 C206.17,403.10 209.29,403.39 212.00,403.60 C214.71,403.81 216.17,404.27 217.75,404.25 C219.33,404.23 220.25,404.04 221.50,403.50 C222.75,402.96 223.67,401.57 225.25,401.00 C226.83,400.43 228.92,400.35 231.00,400.10 C233.08,399.85 235.58,399.88 237.75,399.50 C239.92,399.12 241.71,398.38 244.00,397.80 C246.29,397.22 248.17,396.76 251.50,396.00 C254.83,395.24 259.42,394.12 264.00,393.25 C268.58,392.38 274.83,391.62 279.00,390.75 C283.17,389.88 285.88,389.00 289.00,388.00 C292.12,387.00 294.75,385.62 297.75,384.75 C300.75,383.88 303.88,383.43 307.00,382.80 C310.12,382.18 313.25,381.47 316.50,381.00 C319.75,380.53 323.46,380.54 326.50,380.00 C329.54,379.46 333.38,378.12 334.75,377.75" stroke="#d62222"/>
<path d="M38.00,532.00 L43.20,485.00 L46.00,460.10 C46.47,459.10 47.75,456.13 48.80,454.10 C49.85,452.07 51.03,449.87 52.30,447.90 C53.57,445.93 54.78,444.05 56.40,442.30 C58.02,440.55 59.92,438.80 62.00,437.40 C64.08,436.00 66.12,434.87 68.90,433.90 C71.68,432.93 74.75,432.25 78.70,431.60 C82.65,430.95 87.38,430.37 92.60,430.00 C97.82,429.63 104.60,429.57 110.00,429.40 C115.40,429.23 112.67,429.15 125.00,429.00 C137.33,428.85 171.25,428.62 184.00,428.50 C196.75,428.38 196.83,428.20 201.50,428.25 C206.17,428.30 209.29,428.59 212.00,428.80 C214.71,429.01 216.17,429.47 217.75,429.50 C219.33,429.53 220.25,429.50 221.50,429.00 C222.75,428.50 223.67,427.08 225.25,426.50 C226.83,425.92 228.92,425.79 231.00,425.50 C233.08,425.21 235.58,425.17 237.75,424.75 C239.92,424.33 241.71,423.62 244.00,423.00 C246.29,422.38 248.17,421.83 251.50,421.00 C254.83,420.17 259.42,418.96 264.00,418.00 C268.58,417.04 274.83,416.21 279.00,415.25 C283.17,414.29 285.88,413.29 289.00,412.25 C292.12,411.21 294.42,410.04 297.75,409.00 C301.08,407.96 305.04,407.33 309.00,406.00 C312.96,404.67 317.21,402.67 321.50,401.00 C325.79,399.33 332.54,396.83 334.75,396.00" stroke="#3a3aff"/>
</g>
<use href="#g1" transform="translate(58.90,630.10) scale(0.00684,-0.00684)"/><text x="66.68" y="630.10" font-family="Liberation Sans, sans-serif" font-size="14" fill="#1a1a1a">0</text><use href="#g1" transform="translate(74.77,623.30) scale(0.00415,-0.00415)"/>
<use href="#g1" transform="translate(111.57,630.10) scale(0.00684,-0.00684)"/><text x="119.35" y="630.10" font-family="Liberation Sans, sans-serif" font-size="14" fill="#1a1a1a">0</text><text x="127.44" y="623.30" font-family="Liberation Sans, sans-serif" font-size="8.5" fill="#1a1a1a">2</text>
<use href="#g1" transform="translate(164.24,630.10) scale(0.00684,-0.00684)"/><text x="172.02" y="630.10" font-family="Liberation Sans, sans-serif" font-size="14" fill="#1a1a1a">0</text><text x="180.11" y="623.30" font-family="Liberation Sans, sans-serif" font-size="8.5" fill="#1a1a1a">3</text>
<use href="#g1" transform="translate(216.91,630.10) scale(0.00684,-0.00684)"/><text x="224.69" y="630.10" font-family="Liberation Sans, sans-serif" font-size="14" fill="#1a1a1a">0</text><text x="232.78" y="623.30" font-family="Liberation Sans, sans-serif" font-size="8.5" fill="#1a1a1a">4</text>
<use href="#g1" transform="translate(269.58,630.10) scale(0.00684,-0.00684)"/><text x="277.36" y="630.10" font-family="Liberation Sans, sans-serif" font-size="14" fill="#1a1a1a">0</text><text x="285.45" y="623.30" font-family="Liberation Sans, sans-serif" font-size="8.5" fill="#1a1a1a">5</text>
<use href="#g1" transform="translate(322.25,630.10) scale(0.00684,-0.00684)"/><text x="330.03" y="630.10" font-family="Liberation Sans, sans-serif" font-size="14" fill="#1a1a1a">0</text><text x="338.12" y="623.30" font-family="Liberation Sans, sans-serif" font-size="8.5" fill="#1a1a1a">6</text>
<use href="#g1" transform="translate(13.46,382.30) scale(0.00684,-0.00684)"/><text x="21.24" y="382.30" font-family="Liberation Sans, sans-serif" font-size="14" fill="#1a1a1a">0</text><use href="#g1" transform="translate(29.32,375.50) scale(0.00415,-0.00415)"/>
<use href="#g1" transform="translate(13.46,500.20) scale(0.00684,-0.00684)"/><text x="21.24" y="500.20" font-family="Liberation Sans, sans-serif" font-size="14" fill="#1a1a1a">0</text><text x="29.32" y="493.40" font-family="Liberation Sans, sans-serif" font-size="8.5" fill="#1a1a1a">0</text>
<use href="#g1" transform="translate(10.63,618.10) scale(0.00684,-0.00684)"/><text x="18.41" y="618.10" font-family="Liberation Sans, sans-serif" font-size="14" fill="#1a1a1a">0</text><text x="26.49" y="611.30" font-family="Liberation Sans, sans-serif" font-size="8.5" fill="#1a1a1a">-</text><use href="#g1" transform="translate(29.32,611.30) scale(0.00415,-0.00415)"/>
<text x="186.25" y="643.40" font-family="Liberation Sans, sans-serif" font-size="12.7" font-weight="bold" fill="#000" stroke="#000" stroke-width="0.25" text-anchor="middle">R [km]</text>
<text transform="translate(9.90,477.55) rotate(-90)" font-family="Liberation Sans, sans-serif" font-size="12.7" font-weight="bold" fill="#000" stroke="#000" stroke-width="0.25" text-anchor="middle">Speed [km/s]</text>
<text x="306.8" y="427.10" font-family="Liberation Sans, sans-serif" font-size="10.5" font-weight="bold" fill="#000" stroke="#000" stroke-width="0.25">H2O</text>
<text x="306.8" y="439.75" font-family="Liberation Sans, sans-serif" font-size="10.5" font-weight="bold" fill="#000" stroke="#000" stroke-width="0.25">OH</text>
<text x="306.8" y="452.40" font-family="Liberation Sans, sans-serif" font-size="10.5" font-weight="bold" fill="#000" stroke="#000" stroke-width="0.25">O</text>
<text x="306.8" y="465.05" font-family="Liberation Sans, sans-serif" font-size="10.5" font-weight="bold" fill="#000" stroke="#000" stroke-width="0.25">H</text>
<text x="306.8" y="477.70" font-family="Liberation Sans, sans-serif" font-size="10.5" font-weight="bold" fill="#000" stroke="#000" stroke-width="0.25">H2</text>
<clipPath id="c4"><rect x="426.90000000000003" y="340.3" width="299.59999999999997" height="273.4"/></clipPath>
<path d="M436.08,613.4 v-4.2 M442.61,613.4 v-4.2 M447.67,613.4 v-4.2 M451.81,613.4 v-4.2 M455.31,613.4 v-4.2 M458.34,613.4 v-4.2 M461.01,613.4 v-4.2 M479.13,613.4 v-4.2 M488.33,613.4 v-4.2 M494.86,613.4 v-4.2 M499.92,613.4 v-4.2 M504.06,613.4 v-4.2 M507.56,613.4 v-4.2 M510.59,613.4 v-4.2 M513.26,613.4 v-4.2 M531.38,613.4 v-4.2 M540.58,613.4 v-4.2 M547.11,613.4 v-4.2 M552.17,613.4 v-4.2 M556.31,613.4 v-4.2 M559.81,613.4 v-4.2 M562.84,613.4 v-4.2 M565.51,613.4 v-4.2 M583.63,613.4 v-4.2 M592.83,613.4 v-4.2 M599.36,613.4 v-4.2 M604.42,613.4 v-4.2 M608.56,613.4 v-4.2 M612.06,613.4 v-4.2 M615.09,613.4 v-4.2 M617.76,613.4 v-4.2 M635.88,613.4 v-4.2 M645.08,613.4 v-4.2 M651.61,613.4 v-4.2 M656.67,613.4 v-4.2 M660.81,613.4 v-4.2 M664.31,613.4 v-4.2 M667.34,613.4 v-4.2 M670.01,613.4 v-4.2 M688.13,613.4 v-4.2 M697.33,613.4 v-4.2 M703.86,613.4 v-4.2 M708.92,613.4 v-4.2 M713.06,613.4 v-4.2 M716.56,613.4 v-4.2 M719.59,613.4 v-4.2 M722.26,613.4 v-4.2 M427.3,577.91 h4.2 M427.3,557.15 h4.2 M427.3,542.42 h4.2 M427.3,530.99 h4.2 M427.3,521.66 h4.2 M427.3,513.76 h4.2 M427.3,506.93 h4.2 M427.3,500.89 h4.2 M427.3,460.01 h4.2 M427.3,439.25 h4.2 M427.3,424.52 h4.2 M427.3,413.09 h4.2 M427.3,403.76 h4.2 M427.3,395.86 h4.2 M427.3,389.03 h4.2 M427.3,382.99 h4.2 M427.3,342.11 h4.2 M427.3,342.70 h4.2" stroke="#858585" stroke-width="1" fill="none"/>
<path d="M463.40,613.4 v-6.8 M515.65,613.4 v-6.8 M567.90,613.4 v-6.8 M620.15,613.4 v-6.8 M672.40,613.4 v-6.8 M724.65,613.4 v-6.8 M427.3,495.50 h6.8 M427.3,377.60 h6.8" stroke="#1a1a1a" stroke-width="1.35" fill="none"/>
<path d="M427.3,342.3 V613.4 H724.5" stroke="#1a1a1a" stroke-width="1.5" fill="none" stroke-linejoin="miter" stroke-linecap="square"/>
<path d="M650.5,417.50 H697.8" stroke="#222222" stroke-width="1.5" fill="none"/>
<path d="M650.5,430.20 H697.8" stroke="#ff8418" stroke-width="1.5" fill="none"/>
<path d="M650.5,442.90 H697.8" stroke="#22cc22" stroke-width="1.5" fill="none"/>
<path d="M650.5,455.60 H697.8" stroke="#d62222" stroke-width="1.5" fill="none"/>
<path d="M650.5,468.30 H697.8" stroke="#3a3aff" stroke-width="1.5" fill="none"/>
<g clip-path="url(#c4)" fill="none" stroke-width="1.25" stroke-linejoin="round" stroke-linecap="butt">
<path d="M427.30,557.60 C427.42,556.78 428.15,550.81 428.50,549.40 C428.85,547.99 430.29,544.59 430.80,543.50 C431.31,542.41 432.91,539.27 433.60,538.50 C434.29,537.73 436.34,536.35 437.70,535.80 C439.06,535.25 444.89,533.52 447.20,533.00 C449.51,532.48 458.08,530.93 460.80,530.60 C463.52,530.27 471.68,529.76 474.40,529.70 C477.12,529.64 483.64,529.92 488.00,530.00 C492.36,530.08 513.38,530.45 518.00,530.50 C522.62,530.55 531.75,530.62 534.25,530.50 C536.75,530.38 541.33,529.38 543.00,529.25 C544.67,529.12 548.95,529.35 551.00,529.25 C553.05,529.15 559.25,528.35 563.50,528.25 C567.75,528.15 590.05,528.36 593.50,528.25 C596.95,528.14 595.51,527.33 598.00,527.20 C600.49,527.08 616.00,527.15 618.40,527.00 C620.80,526.85 620.16,525.83 622.00,525.70 C623.84,525.57 635.05,525.79 636.80,525.70 C638.55,525.61 638.03,524.91 639.50,524.80 C640.97,524.69 649.75,524.84 651.50,524.60 C653.25,524.36 655.25,522.62 657.00,522.40 C658.75,522.18 667.35,522.62 669.00,522.40 C670.65,522.18 671.76,520.44 673.50,520.20 C675.24,519.96 684.75,520.20 686.40,520.00 C688.05,519.80 688.71,518.46 690.00,518.20 C691.29,517.94 697.64,517.81 699.30,517.40 C700.96,516.99 704.77,514.48 706.60,514.10 C708.43,513.72 716.22,513.78 717.60,513.60 C718.98,513.42 720.12,512.43 720.40,512.30" stroke="#222222" stroke-width="1.45"/>
<path d="M428.50,613.50 C428.58,611.44 429.19,596.96 429.30,592.90 C429.41,588.84 429.39,575.37 429.60,572.90 C429.81,570.43 430.98,569.37 431.40,568.20 C431.82,567.03 433.27,562.73 433.80,561.20 C434.33,559.67 436.18,554.43 436.70,552.90 C437.22,551.37 438.53,547.19 439.00,545.90 C439.47,544.61 441.12,540.94 441.40,540.00 C441.68,539.06 441.56,536.72 441.80,536.50 C442.04,536.28 443.26,537.40 443.80,537.80 C444.34,538.20 446.65,540.57 447.20,540.50 C447.75,540.43 448.75,537.91 449.30,537.10 C449.85,536.29 451.55,533.05 452.70,532.40 C453.85,531.75 459.44,530.87 460.80,530.60 C462.16,530.33 464.94,530.00 466.30,529.70 C467.66,529.40 473.25,527.94 474.40,527.60 C475.55,527.26 477.12,526.09 477.80,526.30 C478.48,526.51 480.38,529.64 481.20,529.70 C482.02,529.76 484.98,526.73 486.00,526.90 C487.02,527.07 490.11,531.40 491.40,531.40 C492.69,531.40 498.01,526.87 498.90,526.90 C499.79,526.93 499.82,530.88 500.30,531.70 C500.78,532.52 503.02,535.21 503.70,535.10 C504.38,534.99 506.42,530.87 507.10,530.60 C507.78,530.33 509.69,532.45 510.50,532.40 C511.31,532.35 513.95,530.26 515.20,530.10 C516.45,529.94 521.97,530.81 523.00,530.75 C524.03,530.69 525.08,529.20 525.50,529.50 C525.92,529.80 526.62,534.20 527.25,533.75 C527.88,533.30 530.98,525.67 531.75,525.00 C532.52,524.33 533.88,526.95 535.00,527.00 C536.12,527.05 541.40,526.00 543.00,525.50 C544.60,525.00 549.95,522.25 551.00,522.00 C552.05,521.75 553.00,522.58 553.50,523.00 C554.00,523.42 555.55,526.17 556.00,526.25 C556.45,526.33 557.38,523.62 558.00,523.75 C558.62,523.88 561.45,527.42 562.25,527.50 C563.05,527.58 564.62,525.00 566.00,524.50 C567.38,524.00 574.12,523.08 576.00,522.50 C577.88,521.92 583.12,518.67 584.75,518.75 C586.38,518.83 591.00,523.00 592.25,523.25 C593.50,523.50 596.12,521.70 597.25,521.25 C598.38,520.80 602.00,518.80 603.50,518.75 C605.00,518.70 610.25,520.95 612.25,520.75 C614.25,520.55 621.38,517.08 623.50,516.75 C625.62,516.42 631.38,517.55 633.50,517.50 C635.62,517.45 643.00,516.25 644.75,516.25 C646.50,516.25 649.38,517.75 651.00,517.50 C652.62,517.25 659.50,514.45 661.00,513.75 C662.50,513.05 664.88,510.88 666.00,510.50 C667.12,510.12 671.12,510.35 672.25,510.00 C673.38,509.65 676.12,507.12 677.25,507.00 C678.38,506.88 682.25,509.07 683.50,508.75 C684.75,508.43 688.25,504.32 689.75,503.75 C691.25,503.18 697.00,503.12 698.50,503.00 C700.00,502.88 703.62,503.00 704.75,502.50 C705.88,502.00 708.62,498.80 709.75,498.00 C710.88,497.20 714.83,495.38 716.00,494.50 C717.17,493.62 720.95,489.77 721.50,489.25" stroke="#ff8418"/>
<path d="M429.40,613.50 C429.60,611.44 430.96,596.14 431.40,592.90 C431.84,589.66 433.39,583.22 433.80,581.10 C434.21,578.98 435.15,573.81 435.50,571.70 C435.85,569.59 437.24,562.23 437.30,560.00 C437.36,557.77 436.16,551.40 436.10,549.40 C436.04,547.40 436.54,541.23 436.70,540.00 C436.86,538.77 437.40,538.34 437.70,537.10 C438.00,535.86 439.29,528.98 439.70,527.60 C440.11,526.22 441.39,523.30 441.80,523.30 C442.21,523.30 443.33,527.37 443.80,527.60 C444.27,527.83 445.95,526.35 446.50,525.60 C447.05,524.85 448.68,521.01 449.30,520.10 C449.92,519.19 451.41,516.91 452.70,516.50 C453.99,516.09 460.78,516.14 462.20,516.00 C463.62,515.86 466.02,514.96 466.90,515.10 C467.78,515.24 470.25,517.40 471.00,517.40 C471.75,517.40 473.62,515.60 474.40,515.10 C475.18,514.60 477.98,512.26 478.80,512.40 C479.62,512.54 481.95,516.09 482.60,516.50 C483.25,516.91 484.49,516.82 485.30,516.50 C486.11,516.18 489.61,513.30 490.70,513.30 C491.79,513.30 495.11,516.39 496.20,516.50 C497.29,516.61 500.78,514.38 501.60,514.40 C502.42,514.42 503.65,516.90 504.40,516.70 C505.15,516.50 508.02,512.94 509.10,512.40 C510.18,511.86 514.06,511.17 515.20,511.30 C516.34,511.44 519.47,514.00 520.50,513.75 C521.53,513.50 524.38,508.50 525.50,508.75 C526.62,509.00 530.25,515.88 531.75,516.25 C533.25,516.62 539.00,513.38 540.50,512.50 C542.00,511.62 545.70,507.93 546.75,507.50 C547.80,507.07 549.83,508.00 551.00,508.25 C552.17,508.50 557.00,509.75 558.50,510.00 C560.00,510.25 564.62,510.38 566.00,510.75 C567.38,511.12 571.25,513.15 572.25,513.75 C573.25,514.35 575.38,516.88 576.00,516.75 C576.62,516.62 577.25,512.98 578.50,512.50 C579.75,512.02 586.62,512.12 588.50,512.00 C590.38,511.88 595.75,511.50 597.25,511.25 C598.75,511.00 602.50,509.62 603.50,509.50 C604.50,509.38 606.38,509.82 607.25,510.00 C608.12,510.18 611.25,511.38 612.25,511.25 C613.25,511.12 616.30,509.32 617.25,508.75 C618.20,508.18 621.00,505.68 621.75,505.50 C622.50,505.32 624.20,506.48 624.75,507.00 C625.30,507.52 626.50,510.57 627.25,510.75 C628.00,510.93 631.12,508.95 632.25,508.75 C633.38,508.55 637.38,509.00 638.50,508.75 C639.62,508.50 642.38,506.12 643.50,506.25 C644.62,506.38 648.80,509.68 649.75,510.00 C650.70,510.32 652.25,509.93 653.00,509.50 C653.75,509.07 655.95,506.20 657.25,505.75 C658.55,505.30 664.25,505.07 666.00,505.00 C667.75,504.93 673.25,505.30 674.75,505.00 C676.25,504.70 679.75,502.50 681.00,502.00 C682.25,501.50 686.00,500.25 687.25,500.00 C688.50,499.75 692.38,499.88 693.50,499.50 C694.62,499.12 697.50,496.70 698.50,496.25 C699.50,495.80 702.25,495.43 703.50,495.00 C704.75,494.57 709.75,492.88 711.00,492.00 C712.25,491.12 715.00,487.45 716.00,486.25 C717.00,485.05 720.50,480.62 721.00,480.00" stroke="#22cc22"/>
<path d="M433.20,613.50 C433.31,612.03 434.13,601.45 434.30,598.80 C434.47,596.15 434.95,589.00 434.90,587.00 C434.85,585.00 433.86,580.56 433.80,578.80 C433.74,577.04 434.13,571.52 434.30,569.40 C434.47,567.28 435.44,559.60 435.50,557.60 C435.56,555.60 435.07,551.16 434.90,549.40 C434.73,547.64 433.76,542.61 433.80,540.00 C433.84,537.39 435.13,528.72 435.30,523.30 C435.47,517.88 435.28,491.68 435.50,485.75 C435.72,479.82 437.07,468.18 437.50,464.00 C437.93,459.82 439.20,445.93 439.75,444.00 C440.30,442.07 442.43,444.57 443.00,444.75 C443.57,444.93 444.95,446.45 445.50,445.75 C446.05,445.05 447.88,439.68 448.50,437.75 C449.12,435.82 451.18,427.50 451.75,426.50 C452.32,425.50 453.62,428.50 454.25,427.75 C454.88,427.00 457.12,420.43 458.00,419.00 C458.88,417.57 462.30,413.88 463.00,413.50 C463.70,413.12 464.55,414.38 465.00,415.25 C465.45,416.12 466.95,421.43 467.50,422.25 C468.05,423.07 469.82,424.07 470.50,423.50 C471.18,422.93 473.50,417.45 474.25,416.50 C475.00,415.55 477.38,414.05 478.00,414.00 C478.62,413.95 479.75,416.12 480.50,416.00 C481.25,415.88 484.45,413.27 485.50,412.75 C486.55,412.23 489.95,410.45 491.00,410.75 C492.05,411.05 495.10,415.80 496.00,415.75 C496.90,415.70 499.18,410.43 500.00,410.25 C500.82,410.07 503.32,413.00 504.25,414.00 C505.18,415.00 508.25,418.95 509.25,420.25 C510.25,421.55 513.38,427.32 514.25,427.00 C515.12,426.68 517.25,417.85 518.00,417.00 C518.75,416.15 521.00,418.50 521.75,418.50 C522.50,418.50 524.58,416.95 525.50,417.00 C526.42,417.05 530.00,419.30 531.00,419.00 C532.00,418.70 534.55,414.32 535.50,414.00 C536.45,413.68 539.38,415.70 540.50,415.75 C541.62,415.80 545.70,414.88 546.75,414.50 C547.80,414.12 549.95,412.10 551.00,412.00 C552.05,411.90 556.20,412.93 557.25,413.50 C558.30,414.07 560.75,417.90 561.50,417.75 C562.25,417.60 564.17,412.50 564.75,412.00 C565.33,411.50 566.67,412.25 567.25,412.75 C567.83,413.25 570.00,416.57 570.50,417.00 C571.00,417.43 571.90,417.60 572.25,417.00 C572.60,416.40 573.62,411.55 574.00,411.00 C574.38,410.45 575.35,411.00 576.00,411.50 C576.65,412.00 579.50,416.05 580.50,416.00 C581.50,415.95 584.95,411.75 586.00,411.00 C587.05,410.25 590.12,408.75 591.00,408.50 C591.88,408.25 593.88,409.00 594.75,408.50 C595.62,408.00 598.88,403.45 599.75,403.50 C600.62,403.55 602.62,408.12 603.50,409.00 C604.38,409.88 607.50,412.00 608.50,412.25 C609.50,412.50 612.38,411.45 613.50,411.50 C614.62,411.55 618.62,412.68 619.75,412.75 C620.88,412.82 623.67,412.75 624.75,412.25 C625.83,411.75 629.50,407.82 630.50,407.75 C631.50,407.68 633.83,411.43 634.75,411.50 C635.67,411.57 638.67,409.20 639.75,408.50 C640.83,407.80 644.50,404.57 645.50,404.50 C646.50,404.43 648.70,407.60 649.75,407.75 C650.80,407.90 654.88,406.38 656.00,406.00 C657.12,405.62 660.12,404.20 661.00,404.00 C661.88,403.80 663.62,404.68 664.75,404.00 C665.88,403.32 671.12,398.12 672.25,397.25 C673.38,396.38 675.33,395.45 676.00,395.25 C676.67,395.05 678.25,395.57 679.00,395.25 C679.75,394.93 682.17,392.32 683.50,392.00 C684.83,391.68 690.88,392.60 692.25,392.00 C693.62,391.40 696.25,386.80 697.25,386.00 C698.25,385.20 700.88,385.00 702.25,384.00 C703.62,383.00 709.50,377.62 711.00,376.00 C712.50,374.38 716.20,368.95 717.25,367.75 C718.30,366.55 721.08,364.38 721.50,364.00" stroke="#d62222"/>
<path d="M430.80,613.50 C430.92,612.03 431.76,601.45 432.00,598.80 C432.24,596.15 433.02,589.35 433.20,587.00 C433.38,584.65 433.80,577.65 433.80,575.30 C433.80,572.95 433.38,565.27 433.20,563.50 C433.02,561.73 432.12,559.36 432.00,557.60 C431.88,555.84 431.88,547.66 432.00,545.90 C432.12,544.14 433.05,541.34 433.20,540.00 C433.35,538.66 433.39,537.00 433.50,532.50 C433.61,528.00 434.10,502.15 434.25,495.00 C434.40,487.85 434.81,462.50 435.00,461.00 C435.19,459.50 435.88,475.58 436.20,480.00 C436.52,484.42 437.88,505.00 438.20,505.20 C438.52,505.40 439.17,487.12 439.40,482.00 C439.63,476.88 440.14,457.55 440.50,454.00 C440.86,450.45 442.25,448.25 443.00,446.50 C443.75,444.75 447.20,438.38 448.00,436.50 C448.80,434.62 450.30,428.38 451.00,427.75 C451.70,427.12 454.25,429.07 455.00,430.25 C455.75,431.43 457.70,439.00 458.50,439.50 C459.30,440.00 462.00,435.18 463.00,435.25 C464.00,435.32 467.38,440.25 468.50,440.25 C469.62,440.25 473.38,435.68 474.25,435.25 C475.12,434.82 476.50,436.82 477.25,436.00 C478.00,435.18 480.93,427.38 481.75,427.00 C482.57,426.62 484.88,431.85 485.50,432.25 C486.12,432.65 487.45,430.95 488.00,431.00 C488.55,431.05 490.20,433.20 491.00,432.75 C491.80,432.30 495.05,426.62 496.00,426.50 C496.95,426.38 499.18,430.95 500.50,431.50 C501.82,432.05 507.88,431.75 509.25,432.00 C510.62,432.25 513.00,433.80 514.25,434.00 C515.50,434.20 520.50,434.38 521.75,434.00 C523.00,433.62 525.75,430.12 526.75,430.25 C527.75,430.38 530.83,436.05 531.75,435.25 C532.67,434.45 535.22,423.26 536.00,422.25 C536.78,421.24 538.91,424.71 539.60,425.10 C540.29,425.50 542.01,424.99 542.90,426.20 C543.79,427.41 547.69,436.47 548.50,437.25 C549.31,438.03 550.38,434.70 551.00,434.00 C551.62,433.30 553.80,430.43 554.75,430.25 C555.70,430.07 559.50,432.38 560.50,432.25 C561.50,432.12 563.75,429.02 564.75,429.00 C565.75,428.98 569.38,432.05 570.50,432.00 C571.62,431.95 575.20,428.50 576.00,428.50 C576.80,428.50 577.95,431.57 578.50,432.00 C579.05,432.43 580.88,433.68 581.50,432.75 C582.12,431.82 583.67,424.32 584.75,422.75 C585.83,421.18 591.12,417.43 592.25,417.00 C593.38,416.57 595.12,418.60 596.00,418.50 C596.88,418.40 599.75,415.75 601.00,416.00 C602.25,416.25 606.25,420.45 608.50,421.00 C610.75,421.55 621.67,421.12 623.50,421.50 C625.33,421.88 626.12,425.00 626.75,424.75 C627.38,424.50 627.70,419.65 629.75,419.00 C631.80,418.35 644.88,419.00 647.25,418.25 C649.62,417.50 652.38,412.23 653.50,411.50 C654.62,410.77 657.38,410.80 658.50,411.00 C659.62,411.20 663.50,413.70 664.75,413.50 C666.00,413.30 669.62,409.62 671.00,409.00 C672.38,408.38 677.00,407.80 678.50,407.25 C680.00,406.70 684.88,403.88 686.00,403.50 C687.12,403.12 688.75,404.02 689.75,403.50 C690.75,402.98 694.62,399.12 696.00,398.25 C697.38,397.38 702.00,395.80 703.50,394.75 C705.00,393.70 709.62,389.20 711.00,387.75 C712.38,386.30 716.20,381.30 717.25,380.25 C718.30,379.20 721.08,377.55 721.50,377.25" stroke="#3a3aff"/>
</g>
<use href="#g1" transform="translate(453.40,627.75) scale(0.00684,-0.00684)"/><text x="461.18" y="627.75" font-family="Liberation Sans, sans-serif" font-size="14" fill="#1a1a1a">0</text><use href="#g1" transform="translate(469.27,620.95) scale(0.00415,-0.00415)"/>
<use href="#g1" transform="translate(505.65,627.75) scale(0.00684,-0.00684)"/><text x="513.43" y="627.75" font-family="Liberation Sans, sans-serif" font-size="14" fill="#1a1a1a">0</text><text x="521.52" y="620.95" font-family="Liberation Sans, sans-serif" font-size="8.5" fill="#1a1a1a">2</text>
<use href="#g1" transform="translate(557.90,627.75) scale(0.00684,-0.00684)"/><text x="565.68" y="627.75" font-family="Liberation Sans, sans-serif" font-size="14" fill="#1a1a1a">0</text><text x="573.77" y="620.95" font-family="Liberation Sans, sans-serif" font-size="8.5" fill="#1a1a1a">3</text>
<use href="#g1" transform="translate(610.15,627.75) scale(0.00684,-0.00684)"/><text x="617.93" y="627.75" font-family="Liberation Sans, sans-serif" font-size="14" fill="#1a1a1a">0</text><text x="626.02" y="620.95" font-family="Liberation Sans, sans-serif" font-size="8.5" fill="#1a1a1a">4</text>
<use href="#g1" transform="translate(662.40,627.75) scale(0.00684,-0.00684)"/><text x="670.18" y="627.75" font-family="Liberation Sans, sans-serif" font-size="14" fill="#1a1a1a">0</text><text x="678.27" y="620.95" font-family="Liberation Sans, sans-serif" font-size="8.5" fill="#1a1a1a">5</text>
<use href="#g1" transform="translate(714.65,627.75) scale(0.00684,-0.00684)"/><text x="722.43" y="627.75" font-family="Liberation Sans, sans-serif" font-size="14" fill="#1a1a1a">0</text><text x="730.52" y="620.95" font-family="Liberation Sans, sans-serif" font-size="8.5" fill="#1a1a1a">6</text>
<use href="#g1" transform="translate(403.31,382.40) scale(0.00684,-0.00684)"/><text x="411.09" y="382.40" font-family="Liberation Sans, sans-serif" font-size="14" fill="#1a1a1a">0</text><use href="#g1" transform="translate(419.17,375.60) scale(0.00415,-0.00415)"/>
<use href="#g1" transform="translate(403.31,500.30) scale(0.00684,-0.00684)"/><text x="411.09" y="500.30" font-family="Liberation Sans, sans-serif" font-size="14" fill="#1a1a1a">0</text><text x="419.17" y="493.50" font-family="Liberation Sans, sans-serif" font-size="8.5" fill="#1a1a1a">0</text>
<use href="#g1" transform="translate(400.48,618.20) scale(0.00684,-0.00684)"/><text x="408.26" y="618.20" font-family="Liberation Sans, sans-serif" font-size="14" fill="#1a1a1a">0</text><text x="416.34" y="611.40" font-family="Liberation Sans, sans-serif" font-size="8.5" fill="#1a1a1a">-</text><use href="#g1" transform="translate(419.17,611.40) scale(0.00415,-0.00415)"/>
<text x="575.80" y="641.60" font-family="Liberation Sans, sans-serif" font-size="12.7" font-weight="bold" fill="#000" stroke="#000" stroke-width="0.25" text-anchor="middle">R [km]</text>
<text transform="translate(398.70,477.85) rotate(-90)" font-family="Liberation Sans, sans-serif" font-size="12.7" font-weight="bold" fill="#000" stroke="#000" stroke-width="0.25" text-anchor="middle">Speed [km/s]</text>
<text x="706.0" y="421.10" font-family="Liberation Sans, sans-serif" font-size="10.5" font-weight="bold" fill="#000" stroke="#000" stroke-width="0.25">H2O</text>
<text x="706.0" y="433.80" font-family="Liberation Sans, sans-serif" font-size="10.5" font-weight="bold" fill="#000" stroke="#000" stroke-width="0.25">OH</text>
<text x="706.0" y="446.50" font-family="Liberation Sans, sans-serif" font-size="10.5" font-weight="bold" fill="#000" stroke="#000" stroke-width="0.25">O</text>
<text x="706.0" y="459.20" font-family="Liberation Sans, sans-serif" font-size="10.5" font-weight="bold" fill="#000" stroke="#000" stroke-width="0.25">H</text>
<text x="706.0" y="471.90" font-family="Liberation Sans, sans-serif" font-size="10.5" font-weight="bold" fill="#000" stroke="#000" stroke-width="0.25">H2</text>
</svg>
</body></html>
